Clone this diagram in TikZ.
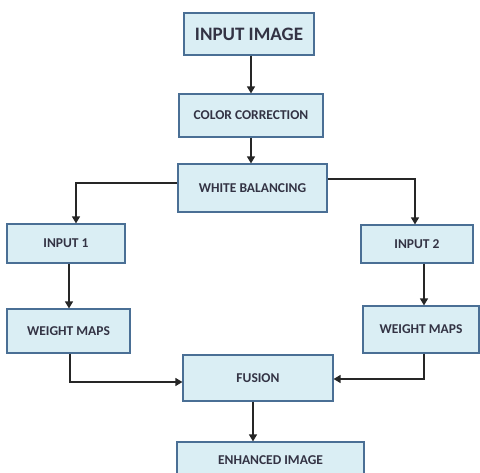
\documentclass[tikz,border=0pt]{standalone}
\usepackage{fontspec}
\setmainfont{Carlito}
\usetikzlibrary{arrows.meta,calc}
\definecolor{boxfill}{HTML}{DAEEF4}
\definecolor{boxline}{HTML}{4A6F95}
\definecolor{txt}{HTML}{333344}
\tikzset{
  flowbox/.style={draw=boxline,fill=boxfill,line width=1.2pt,inner sep=0pt,
    text=txt,font=\bfseries\fontsize{13.5}{15}\selectfont},
  arr/.style={draw=black!85,line width=1.4pt,-{Triangle[length=7pt,width=8pt]}}
}
\begin{document}
\begin{tikzpicture}[x=1pt,y=-1pt]
\useasboundingbox (0,0) rectangle (480,472);
\fill[white] (0,0) rectangle (480,472);
\node[flowbox,minimum width=130pt,minimum height=42pt,font=\bfseries\fontsize{19}{21}\selectfont] (img) at (249,34) {INPUT IMAGE};
\node[flowbox,minimum width=144pt,minimum height=43pt] (cc) at (251,115.5) {COLOR CORRECTION};
\node[flowbox,minimum width=149pt,minimum height=48pt] (wb) at (252.5,188) {WHITE BALANCING};
\node[flowbox,minimum width=118pt,minimum height=39pt] (in1) at (66,243.5) {INPUT 1};
\node[flowbox,minimum width=123pt,minimum height=44pt] (wm1) at (68.5,331) {WEIGHT MAPS};
\node[flowbox,minimum width=112pt,minimum height=38pt] (in2) at (417,244) {INPUT 2};
\node[flowbox,minimum width=116pt,minimum height=47pt] (wm2) at (421,329.5) {WEIGHT MAPS};
\node[flowbox,minimum width=150pt,minimum height=46pt] (fus) at (258,378) {FUSION};
\node[flowbox,minimum width=187pt,minimum height=36pt] (enh) at (270.5,460) {ENHANCED IMAGE};

\draw[arr] (cc.north |- img.south) -- (cc.north);
\draw[arr] (cc.south) -- (cc.south |- wb.north);
\draw[arr] ([yshift=5pt]wb.west) -| ([xshift=10pt]in1.north);
\draw[arr] ([yshift=9pt]wb.east) -| ([xshift=-2pt]in2.north);
\draw[arr] ([xshift=0.5pt]wm1.north |- in1.south) -- ([xshift=0.5pt]wm1.north);
\draw[arr] ([xshift=3pt]wm2.north |- in2.south) -- ([xshift=3pt]wm2.north);
\draw[arr] ([xshift=1.5pt]wm1.south) |- ([yshift=-4pt]fus.west);
\draw[arr] ([xshift=3pt]wm2.south) |- ([yshift=-1pt]fus.east);
\draw[arr] ([xshift=-5pt]fus.south) -- ([xshift=-5pt]fus.south |- enh.north);
\end{tikzpicture}
\end{document}
